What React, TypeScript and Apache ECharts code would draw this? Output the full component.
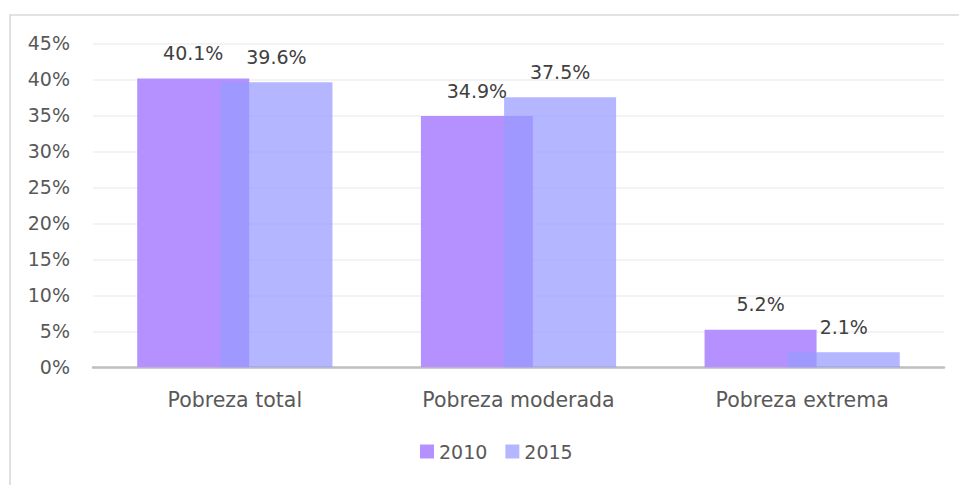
import React, { useEffect, useRef } from "react";
import * as echarts from "echarts";

const categories = ["Pobreza total", "Pobreza moderada", "Pobreza extrema"];
const seriesNames = ["2010", "2015"];
const values2010 = [40.1, 34.9, 5.2];
const values2015 = [39.6, 37.5, 2.1];

const FONT = "'DejaVu Sans', sans-serif";
const FS = 19;

export default function App() {
  const ref = useRef<HTMLDivElement>(null);
  useEffect(() => {
    document.body.style.margin = "0";
    const chart = echarts.init(ref.current!, null, { renderer: "svg" });
    const label = {
      show: true,
      position: "top" as const,
      distance: 16,
      color: "#404040",
      fontSize: FS,
      fontFamily: FONT,
      formatter: (p: any) => p.value.toFixed(1) + "%",
    };
    chart.setOption({
      animation: false,
      backgroundColor: "#ffffff",
      graphic: [
        {
          type: "rect",
          shape: { x: 10, y: 15, width: 1000, height: 520 },
          style: { fill: "none", stroke: "#d9d9d9", lineWidth: 1.6 },
          silent: true,
          z: -1,
        },
      ],
      grid: { left: 93, right: 15, top: 43.3, bottom: 117.7 },
      legend: {
        data: seriesNames,
        left: 415,
        top: 437,
        itemWidth: 14,
        itemHeight: 14,
        itemGap: 18,
        icon: "rect",
        textStyle: { color: "#595959", fontSize: FS, fontFamily: FONT },
      },
      xAxis: {
        type: "category",
        data: categories,
        axisLine: { lineStyle: { color: "#bfbfbf", width: 2.5 } },
        axisTick: { show: false },
        axisLabel: {
          color: "#595959",
          fontSize: 20.5,
          fontFamily: FONT,
          margin: 22,
        },
      },
      yAxis: {
        type: "value",
        min: 0,
        max: 45,
        interval: 5,
        axisLine: { show: false },
        axisTick: { show: false },
        splitLine: { lineStyle: { color: "#efefef", width: 1.5 } },
        axisLabel: {
          color: "#595959",
          fontSize: FS,
          fontFamily: FONT,
          margin: 23,
          formatter: "{value}%",
        },
      },
      series: [
        {
          name: seriesNames[0],
          type: "bar",
          data: values2010,
          barWidth: 112,
          barGap: "-25.7%",
          itemStyle: { color: "#b491ff" },
          label,
        },
        {
          name: seriesNames[1],
          type: "bar",
          data: values2015,
          barWidth: 112,
          itemStyle: { color: "rgba(151,155,255,0.72)" },
          label,
        },
      ],
    });
    return () => chart.dispose();
  }, []);
  return (
    <div
      ref={ref}
      style={{ position: "absolute", left: 0, top: 0, width: 959, height: 485 }}
    />
  );
}
